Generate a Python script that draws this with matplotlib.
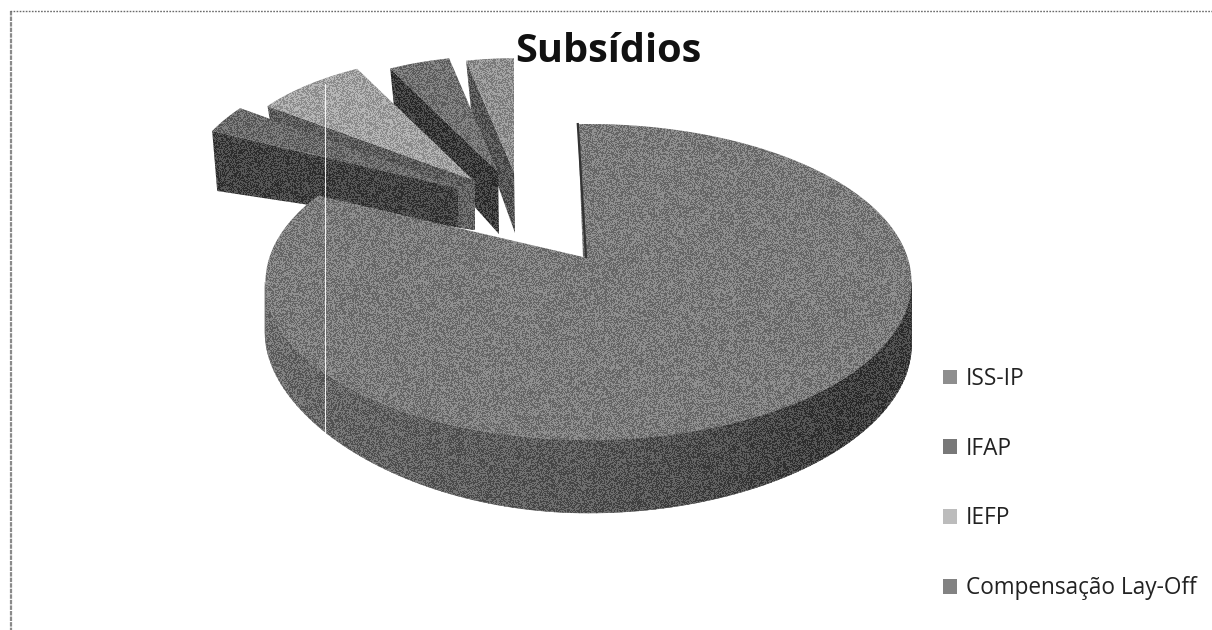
import numpy as np
import matplotlib
matplotlib.use("Agg")
import matplotlib.pyplot as plt
from matplotlib.patches import Polygon, Patch

title = "Subsídios"
labels = ["ISS-IP", "IFAP", "IEFP", "Compensação Lay-Off", ""]
values = [82.1, 3.0, 7.4, 4.2, 3.3]

# styling
top_colors = ["#7a7a7a", "#666666", "#a8a8a8", "#6e6e6e", "#929292"]
wall_colors = ["#4c4c4c", "#363636", "#565656", "#2e2e2e", "#4e4e4e"]
legend_colors = ["#8e8e8e", "#787878", "#bcbcbc", "#828282"]
radius = [1.0, 0.895, 0.79, 0.735, 0.72]
shift_x = [0, -110, -110, -85, -69]
shift_y = [0, -65, -77, -85, -85]
depth_outer = [0, 60, 30, 50, 50]
depth_apex = [0, 38, 45, 62, 61]

CX, CY, RX, RY = 588.5, 282, 323, 158
AX0, AY0 = 583, 257
MAIN_FROM, MAIN_TO = -1.9, 303.2   # drawn rim of the main slice, with perspective

fig = plt.figure(figsize=(12.12, 6.3), dpi=100)
ax = fig.add_axes([0, 0, 1, 1])

# scanner stipple (deterministic, a surface texture only)
yy, xx = np.mgrid[0:630, 0:1212]
h = np.sin(xx * 0.7391 + yy * 1.9173 + np.sin(xx * 0.0713) * 5.1) * 43758.5453
h = h - np.floor(h)
tex = np.zeros((630, 1212, 4))
tex[..., :3] = (h > 0.5)[..., None].astype(float)
tex[..., 3] = 0.17


def stipple(pts, z):
    im = ax.imshow(tex, extent=(0, 1212, 630, 0), interpolation="nearest", aspect="auto", zorder=z)
    im.set_clip_path(Polygon(pts, closed=True, transform=ax.transData))


def face(pts, color, z):
    ax.add_patch(Polygon(pts, closed=True, fc=color, ec="none", zorder=z))
    stipple(pts, z + 0.01)


def rim(deg):
    t = np.radians(deg)
    return CX + RX * np.sin(t), CY - RY * np.cos(t)


edges = np.concatenate([[0], np.cumsum(values)]) / np.sum(values) * 360

# exploded slices, drawn from the right-most to the left-most
z = 2
for i in [4, 3, 2, 1]:
    a0, a1 = edges[i], edges[i + 1]
    px, py = AX0 + shift_x[i], AY0 + shift_y[i]
    th = np.radians(np.linspace(a0, a1, 30))
    xs = px + RX * radius[i] * np.sin(th)
    ys = py - RY * radius[i] * np.cos(th)
    wall = [(xs[0], ys[0]), (px, py), (px + 1, py + depth_apex[i]),
            (xs[0] + 5, ys[0] + depth_outer[i])]
    face(wall, wall_colors[i], z)
    if i == 1:
        face([(px - 15, py - 3), (px + 2, py - 12), (px + 2, py + depth_apex[i]),
              (px - 15, py + depth_apex[i] - 3)], "#5c5c5c", z + 0.1)
    face(list(zip(xs, ys)) + [(px, py)], top_colors[i], z + 0.2)
    z += 1


# main slice: curved outer wall, shaded along the arc
def wall_depth(deg):
    s = np.sin(np.radians(deg))
    return 73 - (22 if s < 0 else 9) * s ** 2


th = np.linspace(90, 270, 121)
low = []
for k in range(len(th) - 1):
    x0, y0 = rim(th[k])
    x1, y1 = rim(th[k + 1])
    g = np.interp(th[k], [90, 130, 180, 230, 270], [0.20, 0.19, 0.32, 0.38, 0.44])
    ax.add_patch(Polygon([(x0, y0), (x1 - 0.5, y1), (x1 - 0.5, y1 + wall_depth(th[k + 1])),
                          (x0, y0 + wall_depth(th[k]))],
                         closed=True, fc=(g, g, g), ec=(g, g, g), lw=0.4, zorder=7))
    low.append((x0, y0 + wall_depth(th[k])))
outline = [rim(a) for a in th[:-1]] + low[::-1]
stipple(outline, 7.1)

arc = np.linspace(MAIN_FROM, MAIN_TO, 260)
face([rim(a) for a in arc] + [(AX0, AY0)], top_colors[0], 8)
rx, ry = rim(MAIN_FROM)
ax.plot([rx, AX0 + 3], [ry, AY0], color="#333333", lw=1.6, zorder=9)

# scan artefacts and frame
ax.plot([324.5, 324.5], [84, 433], color="#ffffff", lw=0.8, alpha=0.9, zorder=10)
ax.plot([10.5, 10.5], [11, 630], color="#8a8a8a", lw=1.6, ls=(0, (2, 0.5)), zorder=1)
ax.plot([10, 1212], [11, 11], color="#6a6a6a", lw=1.0, ls=(0, (1.2, 1)), zorder=1)

ax.text(608, 62, title, ha="center", va="baseline", fontsize=28.5, fontweight="bold",
        family="Open Sans", color="#111111", zorder=12)

handles = [Patch(fc=c, ec="none") for c in legend_colors]
ax.legend(handles, labels[:4], loc="upper left", bbox_to_anchor=(943 / 1212, 1 - 367 / 630),
          frameon=False, prop={"family": "Open Sans", "size": 16.3}, labelcolor="#222222",
          handlelength=0.62, handleheight=0.62, handletextpad=0.4, labelspacing=2.02,
          borderpad=0, borderaxespad=0)

ax.set_xlim(0, 1212)
ax.set_ylim(630, 0)
ax.axis("off")
fig.savefig("out.png", dpi=100)
